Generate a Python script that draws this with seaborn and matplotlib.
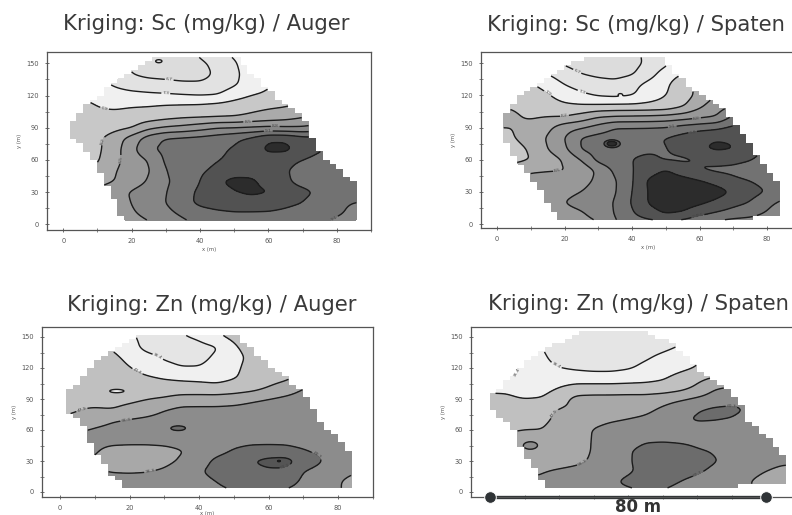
import numpy as np
import pandas as pd
import matplotlib
matplotlib.use("Agg")
import matplotlib.pyplot as plt
from matplotlib.path import Path
from matplotlib.ticker import MultipleLocator
import seaborn as sns

# Kriged surfaces, in contour-band units (contour k sits at z = k)
X_GRID = np.arange(0, 90, 5)
Y_GRID = np.arange(160, -1, -10)

SC_AUGER = [
    [.5, .5, .5, .5, .5, .5, .5, .5, 1.2, 1.8, 2.2, 2.5, 2.8, 3, 3.2, 3.3, 3.4, 3.5],
    [1.4, 1.3, 1.2, 1.1, .9, .6, .5, .5, .8, 1.3, 1.9, 2.5, 2.9, 3.1, 3.3, 3.5, 3.6, 3.7],
    [2.6, 2.4, 2, 1.5, 1, .7, .6, .5, .6, 1.2, 1.8, 2.4, 2.8, 3.2, 3.4, 3.6, 3.8, 4],
    [2.8, 2.6, 2.3, 1.9, 1.6, 1.5, 1.4, 1.25, 1.2, 1.4, 1.9, 2.4, 2.9, 3.2, 3.5, 3.8, 4, 4.2],
    [3, 2.9, 2.8, 2.4, 2.3, 2.2, 2.15, 2.07, 2, 2.05, 2.6, 3, 3.2, 3.5, 3.7, 3.9, 4, 4],
    [3.3, 3.2, 3, 2.85, 2.95, 3, 3.1, 3.15, 3.2, 3.35, 3.5, 3.7, 3.85, 3.95, 4.2, 4.5, 4.8, 5],
    [3.2, 3.2, 3.2, 3.3, 3.4, 3.5, 3.7, 3.85, 3.9, 3.95, 4, 4.2, 4.4, 4.6, 4.9, 5.3, 5.6, 6],
    [3.2, 3.3, 3.4, 3.7, 3.95, 4.75, 5.1, 5.3, 5.6, 5.95, 6, 6.1, 6.2, 6.1, 6.1, 6.4, 6.8, 7],
    [3.4, 3.5, 3.8, 4.5, 5.4, 6.5, 7.1, 7.2, 7.3, 7.5, 7.8, 8.2, 8.85, 8.85, 8.4, 8.3, 8.2, 8],
    [3.3, 3.5, 3.8, 4.6, 5.7, 6.9, 7.2, 7.3, 7.5, 7.8, 8.1, 8.5, 9.25, 9.25, 8.6, 8.1, 7.8, 7.5],
    [3.3, 3.4, 3.9, 4.7, 5.5, 6.05, 7.2, 7.4, 7.7, 7.95, 8.2, 8.3, 8.4, 8.3, 8, 7.7, 7.5, 7.3],
    [3.8, 4, 4.2, 4.95, 5.4, 5.9, 7, 7.4, 7.85, 8.2, 8.5, 8.6, 8.4, 8.1, 7.6, 7.3, 7.2, 7.1],
    [4.5, 4.6, 4.7, 5, 5.5, 6.1, 6.9, 7.3, 8, 8.85, 9.3, 9.2, 8.6, 8.2, 7.6, 7.3, 7.1, 7],
    [5, 5, 5.2, 5.6, 6.1, 6.5, 6.95, 7.6, 8.2, 8.5, 8.95, 9.2, 9.05, 8.6, 8.3, 7.8, 7.2, 7.1],
    [5.2, 5.3, 5.4, 5.7, 6, 6.5, 7, 7.7, 8.2, 8.4, 8.5, 8.5, 8.4, 8.2, 8, 7.4, 7.1, 7],
    [5.3, 5.4, 5.5, 5.7, 5.9, 6.2, 6.7, 7.2, 7.6, 7.8, 7.9, 7.9, 7.9, 7.8, 7.6, 7.2, 7.1, 6.85],
    [5.4, 5.4, 5.5, 5.6, 5.7, 5.9, 6.2, 6.7, 7.2, 7.4, 7.5, 7.5, 7.4, 7.4, 7.3, 7.1, 6.8, 6.5],
]
SC_SPATEN = [
    [.5, .5, .5, .5, .5, .5, .5, .5, .7, 1.3, 1.9, 2.5, 3, 3.3, 3.5, 3.5, 3.5, 3.5],
    [1.5, 1.5, 1.3, 1.1, .9, .6, .5, .5, .7, 1.2, 1.8, 2.6, 3.1, 3.5, 3.7, 3.8, 3.9, 4],
    [3, 2.8, 2.4, 2, 1.4, 1, .8, .7, .9, 1.6, 2.5, 3, 3.4, 3.8, 4.3, 4.6, 4.8, 5],
    [3.5, 3.3, 3.1, 2.7, 2, 1.6, 1.4, 1.3, 1.7, 2.3, 2.8, 3.7, 4.2, 4.5, 4.8, 5, 5.2, 5.4],
    [3.8, 3.6, 3.4, 3.1, 2.6, 2.2, 1.9, 1.8, 1.95, 2.5, 3, 3.5, 4.3, 5, 5.5, 5.8, 6, 6],
    [4, 3.95, 3.7, 3.4, 3.2, 3.15, 3.2, 3.25, 3.25, 3.3, 3.4, 3.9, 4.8, 5.6, 6, 6.5, 6.8, 7],
    [4.1, 4.1, 3.9, 4, 4, 4.4, 4.95, 5.1, 5.15, 5.2, 5.3, 5.5, 5.8, 6, 7.2, 7.5, 8, 8],
    [4, 4, 4.3, 4.75, 5.6, 5.9, 6.4, 7, 7, 7, 7.05, 7.4, 7.6, 7.8, 8.2, 8.5, 8.7, 8.8],
    [3.9, 3.95, 4.4, 5.1, 6, 7.1, 7.4, 7.5, 7.6, 7.8, 8.05, 8.4, 8.85, 8.95, 8.9, 8.5, 8.3, 8],
    [3.6, 3.7, 4.1, 5, 5.8, 7.1, 7.4, 7.6, 7.8, 7.85, 7.95, 8.35, 8.9, 9.15, 9.05, 8.3, 8, 7.8],
    [3.6, 3.7, 4, 4.5, 5.1, 6.05, 7.3, 7.7, 8, 8.2, 7.9, 7.85, 8, 8.25, 8.2, 8.05, 7.7, 7.5],
    [4.5, 4.6, 4.9, 4.95, 4.95, 5.3, 6.2, 7.2, 7.95, 8.6, 9.1, 8.5, 8, 7.85, 7.8, 7.6, 7.4, 7.3],
    [5.3, 5.3, 5.3, 5.4, 5.5, 5.7, 6.2, 6.9, 7.9, 9.2, 9.5, 9.4, 9.1, 8.7, 8.2, 8, 7.7, 7.5],
    [5.5, 5.5, 5.5, 5.6, 5.8, 6, 6.4, 6.9, 8, 9.1, 9.6, 9.7, 9.6, 9.4, 8.9, 8.4, 7.95, 7.4],
    [5.6, 5.6, 5.7, 5.8, 6, 6.3, 6.6, 7.05, 8.1, 9.1, 9.5, 9.5, 9.2, 8.8, 8.3, 7.95, 7.2, 6.8],
    [5.6, 5.6, 5.6, 5.6, 5.7, 5.9, 6.4, 7.05, 7.9, 8.6, 9.1, 8.9, 8.3, 7.9, 7.6, 7.4, 6.9, 6.6],
    [5.4, 5.4, 5.4, 5.5, 5.5, 5.6, 5.9, 6.9, 7.4, 7.5, 7.6, 7.4, 6.9, 6.6, 6.4, 6.3, 6.2, 6.1],
]
ZN_AUGER = [
    [2.2, 2, 1.8, 1.5, 1.1, .9, .9, 1.1, 1.5, 2, 2.4, 2.6, 2.7, 2.8, 2.9, 2.9, 3, 3],
    [2.2, 2, 1.8, 1.5, 1.1, .8, .7, .9, 1.15, 1.85, 2.2, 2.4, 2.6, 2.7, 2.8, 2.9, 3, 3],
    [2.3, 2.2, 2.1, 1.95, 1.4, .7, .6, .6, .7, .9, 1.9, 2.3, 2.6, 2.8, 2.9, 3, 3, 3],
    [2.5, 2.4, 2.3, 2.2, 1.8, 1.3, .9, .7, .75, 1.15, 1.7, 2.2, 2.6, 2.8, 2.95, 3, 3.1, 3.2],
    [2.6, 2.55, 2.5, 2.3, 2.05, 1.6, 1.3, 1.05, 1.05, 1.35, 1.8, 2.3, 2.6, 2.85, 3, 3.1, 3.2, 3.3],
    [2.7, 2.6, 2.6, 2.5, 2.4, 2.15, 1.95, 1.85, 1.8, 1.7, 1.95, 2.3, 2.6, 2.85, 3.2, 3.4, 3.6, 3.8],
    [2.7, 2.7, 2.6, 2.4, 2.5, 2.55, 2.5, 2.45, 2.4, 2.35, 2.5, 2.7, 3.1, 3.5, 4, 4.4, 4.6, 4.8],
    [2.7, 2.9, 2.75, 2.65, 2.75, 2.95, 3.1, 3.4, 3.45, 3.45, 3.55, 3.8, 4, 4.2, 4.4, 4.5, 4.6, 4.6],
    [2.8, 2.95, 3.05, 3, 3.3, 3.6, 3.95, 4.2, 4.2, 4.2, 4.25, 4.35, 4.45, 4.55, 4.6, 4.6, 4.6, 4.6],
    [3.1, 3.2, 3.6, 3.9, 4.05, 4.15, 4.3, 4.4, 4.45, 4.5, 4.5, 4.55, 4.6, 4.6, 4.65, 4.65, 4.6, 4.6],
    [3.8, 3.9, 4.1, 4.25, 4.35, 4.5, 4.7, 4.7, 4.6, 4.6, 4.6, 4.6, 4.6, 4.6, 4.6, 4.6, 4.6, 4.6],
    [4.3, 4.3, 4.3, 4.3, 4.3, 4.3, 4.35, 4.5, 4.7, 4.7, 4.75, 4.8, 4.8, 4.8, 4.7, 4.6, 4.5, 4.4],
    [4.3, 4.3, 4.1, 3.7, 3.6, 3.6, 3.7, 3.95, 4.3, 4.7, 5.05, 5.25, 5.3, 5.25, 5.05, 4.8, 4.6, 4.5],
    [4, 4, 3.9, 3.6, 3.6, 3.65, 3.8, 4.1, 4.6, 5.2, 5.5, 5.95, 6.3, 6.4, 5.6, 5.05, 4.6, 4.4],
    [4.1, 4.1, 4.1, 3.95, 3.9, 3.95, 4.1, 4.4, 4.9, 5.3, 5.5, 5.7, 5.85, 5.8, 5, 4.7, 4.4, 4.1],
    [4.4, 4.4, 4.4, 4.35, 4.4, 4.4, 4.45, 4.5, 4.7, 5, 5.3, 5.6, 5.7, 5.5, 4.8, 4.5, 4.1, 3.6],
    [4.5, 4.5, 4.5, 4.5, 4.4, 4.4, 4.4, 5.3, 4.7, 4.8, 4.95, 5.2, 5.2, 4.8, 4.5, 4.4, 4.1, 3.6],
]
ZN_SPATEN = [
    [1.3, 1.2, 1, .8, .7, .6, .6, .6, .6, .6, .7, .8, 1, 1.3, 1.5, 1.7, 1.8, 1.9],
    [1.4, 1.3, 1.1, .9, .7, .6, .6, .6, .6, .6, .7, .8, 1, 1.3, 1.5, 1.7, 1.8, 1.9],
    [1.5, 1.4, 1.2, 1, .75, .6, .55, .55, .55, .6, .8, 1.05, 1.3, 1.5, 1.7, 1.8, 1.9, 2],
    [1.6, 1.5, 1.3, 1.1, .8, .7, .65, .65, .7, .9, 1.2, 1.5, 1.9, 2.2, 2.4, 2.6, 2.7, 2.8],
    [.7, .7, 1.05, 1.2, 1, .85, .75, .75, .9, 1.2, 1.45, 1.75, 2.05, 2.4, 2.7, 2.9, 3, 3.1],
    [1.1, .95, 1.25, 1.4, 1.55, 1.55, 1.5, 1.5, 1.6, 1.7, 1.9, 2.35, 2.75, 3.1, 3.2, 3.4, 3.5, 3.6],
    [1.85, 1.85, 1.6, 1.7, 2.05, 2.4, 2.45, 2.45, 2.45, 2.45, 2.5, 2.75, 3.2, 3.95, 4.2, 4.2, 4.1, 4],
    [2.2, 2.15, 2, 2.05, 2.55, 3.3, 3.35, 3.35, 3.4, 3.4, 3.6, 3.85, 4.15, 4.45, 4.65, 4.7, 4.7, 4.6],
    [2.5, 2.5, 2.55, 2.75, 3.05, 3.15, 3.25, 3.35, 3.5, 3.75, 4.15, 4.6, 4.95, 5.15, 5.2, 4.9, 4.7, 4.6],
    [2.7, 2.7, 2.75, 2.85, 3.15, 3.4, 3.7, 3.9, 4.05, 4.2, 4.5, 4.85, 5.1, 5.05, 4.95, 4.7, 4.6, 4.5],
    [2.85, 2.9, 3, 3, 3.3, 3.6, 4.05, 4.3, 4.35, 4.45, 4.5, 4.55, 4.6, 4.6, 4.6, 4.6, 4.5, 4.4],
    [3.4, 3.3, 3.35, 3.4, 3.5, 3.7, 4.05, 4.35, 4.55, 4.9, 4.95, 4.9, 4.85, 4.8, 4.7, 4.6, 4.5, 4.4],
    [3.5, 3.5, 3.6, 3.55, 3.55, 3.75, 4.05, 4.4, 4.9, 5.3, 5.3, 5.25, 5.05, 4.95, 4.75, 4.6, 4.5, 4.4],
    [3.6, 3.6, 3.6, 3.65, 3.7, 3.85, 4.1, 4.4, 4.95, 5.2, 5.35, 5.35, 5.3, 5.05, 4.8, 4.6, 4.4, 4.2],
    [3.8, 3.8, 3.85, 3.97, 4.1, 4.2, 4.3, 4.5, 4.9, 5.2, 5.3, 5.25, 5.1, 4.85, 4.6, 4.35, 4, 3.7],
    [4.05, 4.05, 4.1, 4.1, 4.2, 4.3, 4.4, 4.85, 5.2, 5.35, 5.2, 5, 4.8, 4.6, 4.4, 4.05, 3.6, 3.5],
    [4.3, 4.3, 4.3, 4.3, 4.3, 4.4, 4.4, 4.6, 4.8, 5, 4.95, 4.8, 4.7, 4.5, 4.3, 4.2, 3.6, 3.4],
]

# sampled field outlines (x, y in metres)
SC_AUGER_EDGE_X = [27, 20, 9, 5, 3, 3, 8, 12, 18, 18, 78, 78, 85, 85, 79, 75, 71, 68, 62, 57, 51]
SC_AUGER_EDGE_Y = [155, 144, 116, 105, 97, 82, 63, 44, 2, 2, 2, 4, 4, 38, 57, 66, 94, 106, 120, 134, 155]
SC_SPATEN_EDGE_X = [27, 19, 12.5, 6.6, 1.7, 1.7, 5.6, 10, 19, 75, 75, 83.6, 83.6, 80, 77, 74, 69, 64, 59, 53, 49.6]
SC_SPATEN_EDGE_Y = [156, 145, 131, 119, 100, 81, 63, 44, 4, 4, 7, 7, 39, 50, 63, 81, 100, 115, 125, 139, 156]
ZN_AUGER_EDGE_X = [23.5, 17, 10.5, 4, 2, 2, 7, 8.6, 15, 19, 78, 78, 84.5, 84.5, 79, 74, 70.6, 67, 59.5, 54, 50]
ZN_AUGER_EDGE_Y = [153, 138, 125, 102, 96, 81, 63, 50, 18, 3, 3, 5.5, 5.5, 36, 54, 73, 94, 105, 125, 141, 153]
ZN_SPATEN_EDGE_X = [30, 25, 15.7, 10, 3.6, 0, 0, 7.4, 8, 14, 17.6, 72, 72, 85.6, 85.6, 82, 75, 73, 68.4, 63, 58, 52.4, 44]
ZN_SPATEN_EDGE_Y = [157, 153, 136, 124, 102, 92, 84, 58, 48, 18, 2, 2, 8, 8, 34, 48, 69, 82, 103, 111, 127, 145, 157]

# small closed contours too small for the 5 x 10 m grid: x, y, x size, y size, rise
SC_AUGER_SPOTS = [(28, 152, 1.3, 2, 0.6)]
SC_SPATEN_SPOTS = [(34, 75, 1.3, 2, 2.6), (36.5, 121, .5, .8, .3)]
ZN_AUGER_SPOTS = [(16.5, 97.5, 3, 2.2, -0.65), (34, 62, 2.2, 2.4, 0.6), (63, 30, .6, 1, 1)]
ZN_SPATEN_SPOTS = [(11.7, 45.5, 2, 3.5, 0.9)]

SC_LEVELS = ["6.7", "7.3", "7.9", "8.2", "8.5", "8.8", "9.1", "9.4", "9.7"]
ZN_LEVELS = ["36.4", "41.6", "47.9", "56.3", "60.7", "63.3", "65.2"]

SC_AUGER_LABELS = [(31, 135), (30, 123), (12, 107), (11, 78), (18, 60), (54, 94), (62, 90), (60, 85), (79, 7)]
SC_SPATEN_LABELS = [(24, 144), (25, 122), (15, 122), (20, 101), (18, 48), (59, 102), (52, 89), (58, 85), (60, 10), (60, 8)]
ZN_AUGER_LABELS = [(28, 130), (22, 115), (6, 83), (19, 70), (26, 18), (74, 36), (65, 23)]
ZN_SPATEN_LABELS = [(19, 121), (8, 112), (19, 75), (27, 27), (60, 20), (70, 84)]

SC_GREYS = ["#dcdcdc", "#e2e2e2", "#f0f0f0", "#c8c8c8", "#aaaaaa", "#989898", "#868686", "#727272", "#525252", "#2c2c2c"]
ZN_GREYS = ["#e5e5e5", "#f0f0f0", "#c0c0c0", "#a8a8a8", "#8c8c8c", "#6c6c6c", "#555555", "#222222"]

TITLES = ["Kriging: Sc (mg/kg) / Auger", "Kriging: Sc (mg/kg) / Spaten",
          "Kriging: Zn (mg/kg) / Auger", "Kriging: Zn (mg/kg) / Spaten"]
BAR_X = [0, 80]
BAR_LABEL = "80 m"

W, H = 792, 515

sns.set_theme(style="white")
plt.rcParams["font.family"] = ["DejaVu Sans"]


def refine(z, spots):
    # put the read-off grid onto a fine mesh so the contours come out round
    z = np.array(z, dtype=float)[::-1]
    ys = Y_GRID[::-1]
    xf = np.arange(0, 88.01, 0.25)
    yf = np.arange(0, 160.01, 0.5)
    a = np.array([np.interp(xf, X_GRID, row) for row in z])
    b = np.array([np.interp(yf, ys, col) for col in a.T]).T
    kx = np.hanning(25)
    ky = np.hanning(25)
    pad = np.pad(b, 12, mode="edge")
    pad = np.apply_along_axis(lambda r: np.convolve(r, kx / kx.sum(), "same"), 1, pad)
    pad = np.apply_along_axis(lambda r: np.convolve(r, ky / ky.sum(), "same"), 0, pad)
    b = pad[12:-12, 12:-12]
    xx, yy = np.meshgrid(xf, yf)
    for cx, cy, rx, ry, rise in spots:
        b = b + rise * np.exp(-0.5 * (((xx - cx) / rx) ** 2 + ((yy - cy) / ry) ** 2))
    return xx, yy, b


def block_mask(xx, yy, edge_x, edge_y):
    # the kriging blocks are 2 x 4 m, that gives the stepped edge
    cx = np.floor(xx / 2) * 2 + 1
    cy = np.floor(yy / 4) * 4 + 2
    path = Path(np.column_stack([edge_x, edge_y]))
    inside = path.contains_points(np.column_stack([cx.ravel(), cy.ravel()]))
    return ~inside.reshape(xx.shape)


def draw_map(box, z, edge_x, edge_y, spots, greys, names, label_pos, title, title_pos,
             show_x=True, xpad=2.5):
    left, right, top, bottom, x0, x80, y0, y150 = box
    ax = fig.add_axes([left / W, 1 - bottom / H, (right - left) / W, (bottom - top) / H])
    sx = (x80 - x0) / 80
    sy = (y0 - y150) / 150
    ax.set_xlim((left - x0) / sx, (right - x0) / sx)
    ax.set_ylim((y0 - bottom) / sy, (y0 - top) / sy)

    xx, yy, zz = refine(z, spots)
    zz = np.ma.array(zz, mask=block_mask(xx, yy, edge_x, edge_y))
    steps = np.arange(1, len(greys))
    ax.contourf(xx, yy, zz, levels=np.r_[-50, steps, 50], colors=greys, corner_mask=False)
    cs = ax.contour(xx, yy, zz, levels=steps, colors="#1c1c1c", linewidths=1.0, corner_mask=False)
    fmt = {float(k): n for k, n in zip(steps, names)}
    ax.clabel(cs, fmt=fmt, fontsize=3.2, colors="#444444", manual=label_pos, inline=True, inline_spacing=1)

    ax.xaxis.set_major_locator(MultipleLocator(20))
    ax.xaxis.set_minor_locator(MultipleLocator(10))
    ax.yaxis.set_major_locator(MultipleLocator(30))
    ax.yaxis.set_minor_locator(MultipleLocator(15))
    ax.tick_params(which="major", direction="inout", length=3.5, width=0.6, color="#555555",
                   labelsize=4.8, labelcolor="#555555", pad=4, bottom=True, left=True,
                   labelbottom=show_x)
    ax.tick_params(which="minor", direction="inout", length=2.5, width=0.5, color="#555555",
                   bottom=True, left=True)
    for s in ax.spines.values():
        s.set_color("#555555")
        s.set_linewidth(0.9)
    ax.set_ylabel("y (m)", fontsize=3.8, color="#555555", labelpad=3)
    if show_x:
        ax.set_xlabel("x (m)", fontsize=3.8, color="#555555", labelpad=xpad)
    fig.text(title_pos[0] / W, 1 - title_pos[1] / H, title, fontsize=15.2, color="#3a3a3a",
             ha="center", va="center")
    return ax


fig = plt.figure(figsize=(W / 100, H / 100), dpi=100)
fig.patch.set_facecolor("white")

draw_map((47, 371, 52, 230, 63.3, 336.7, 224.3, 63.3), SC_AUGER, SC_AUGER_EDGE_X, SC_AUGER_EDGE_Y,
         SC_AUGER_SPOTS, SC_GREYS, SC_LEVELS, SC_AUGER_LABELS, TITLES[0], (206, 24))
draw_map((481, 815, 52, 228, 497, 767, 224, 63.3), SC_SPATEN, SC_SPATEN_EDGE_X, SC_SPATEN_EDGE_Y,
         SC_SPATEN_SPOTS, SC_GREYS, SC_LEVELS, SC_SPATEN_LABELS, TITLES[1], (636, 25))
draw_map((42, 373, 327, 497, 60, 338, 492, 337), ZN_AUGER, ZN_AUGER_EDGE_X, ZN_AUGER_EDGE_Y,
         ZN_AUGER_SPOTS, ZN_GREYS, ZN_LEVELS, ZN_AUGER_LABELS, TITLES[2], (212, 305), xpad=0.3)
ax4 = draw_map((471, 815, 327, 497, 490, 766, 492, 337), ZN_SPATEN, ZN_SPATEN_EDGE_X, ZN_SPATEN_EDGE_Y,
               ZN_SPATEN_SPOTS, ZN_GREYS, ZN_LEVELS, ZN_SPATEN_LABELS, TITLES[3], (638, 304), show_x=False)

# 80 m scale bar sits on the bottom axis of the last map
bar = pd.DataFrame({"x": BAR_X, "y": [ax4.get_ylim()[0]] * 2})
sns.lineplot(data=bar, x="x", y="y", ax=ax4, color="#2f3336", linewidth=2.4, clip_on=False, legend=False)
sns.scatterplot(data=bar, x="x", y="y", ax=ax4, color="#2f3336", s=70, clip_on=False, legend=False, zorder=5)
ax4.set_xlabel("")
ax4.set_ylabel("y (m)", fontsize=3.8, color="#555555", labelpad=3)
fig.text(638 / W, 1 - 507 / H, BAR_LABEL, fontsize=12, fontweight="bold", color="#333333",
         ha="center", va="center")

fig.savefig("out.png", dpi=100)
